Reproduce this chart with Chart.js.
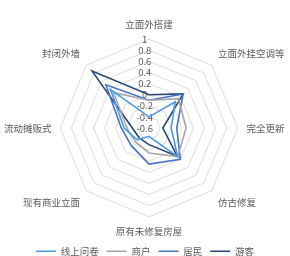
<!DOCTYPE html>
<html>
<head>
<meta charset="utf-8">
<script src="https://cdn.jsdelivr.net/npm/chart.js@4"></script>
<style>
  html, body { margin: 0; padding: 0; background: #fff; }
  #wrap { width: 290px; height: 256px; }
</style>
</head>
<body>
<div id="wrap"><canvas id="myChart"></canvas></div>
<script>
// categories and series
var categories = ['立面外搭建', '立面外挂空调等', '完全更新', '仿古修复', '原有未修复房屋', '现有商业立面', '流动摊贩式', '封闭外墙'];
var online   = [-0.4, 0.07, -0.2, 0.13, -0.45, -0.3, -0.15, 0.38];
var shop     = [-0.1, 0.15, 0.07, 0.13, -0.15, -0.25, -0.2, 0.3];
var resident = [-0.1, 0.27, -0.1, 0.2, 0.05, -0.15, -0.1, 0.5];
var tourist  = [0, 0.27, -0.35, 0.12, -0.3, -0.35, -0.3, 0.85];

var font = "'Noto Sans CJK SC', 'Noto Sans', sans-serif";

function ds(label, data, color) {
    return {
        label: label,
        data: data,
        borderColor: color,
        backgroundColor: color,
        borderWidth: 1.6,
        fill: false,
        pointRadius: 0,
        pointStyle: 'line'
    };
}

var ctx = document.getElementById('myChart').getContext('2d');

var graphData = {
    type: 'radar',
    data: {
        labels: categories,
        datasets: [
            ds('线上问卷', online, '#4a9be0'),
            ds('商户', shop, '#a5a5a5'),
            ds('居民', resident, '#4472c4'),
            ds('游客', tourist, '#264478')
        ]
    },
    options: {
        responsive: true,
        maintainAspectRatio: false,
        animation: false,
        layout: { padding: { top: 19, left: -28, right: -28, bottom: -10 } },
        scales: {
            r: {
                min: -0.6,
                max: 1,
                angleLines: { display: false },
                grid: { color: '#dcdcdc', lineWidth: 1 },
                pointLabels: {
                    color: '#595959',
                    font: { family: font, size: 9.5 },
                    padding: 2
                },
                ticks: {
                    stepSize: 0.2,
                    color: '#595959',
                    font: { family: font, size: 9.5 },
                    showLabelBackdrop: false,
                    callback: function (v) { return Math.round(v * 10) / 10 + '    '; }
                }
            }
        },
        plugins: {
            legend: {
                position: 'bottom',
                labels: {
                    usePointStyle: true,
                    pointStyle: 'line',
                    pointStyleWidth: 20,
                    color: '#595959',
                    font: { family: font, size: 9.5 },
                    padding: 8
                }
            },
            tooltip: { enabled: false }
        }
    }
};

var myChart = new Chart(ctx, graphData);
</script>
</body>
</html>
